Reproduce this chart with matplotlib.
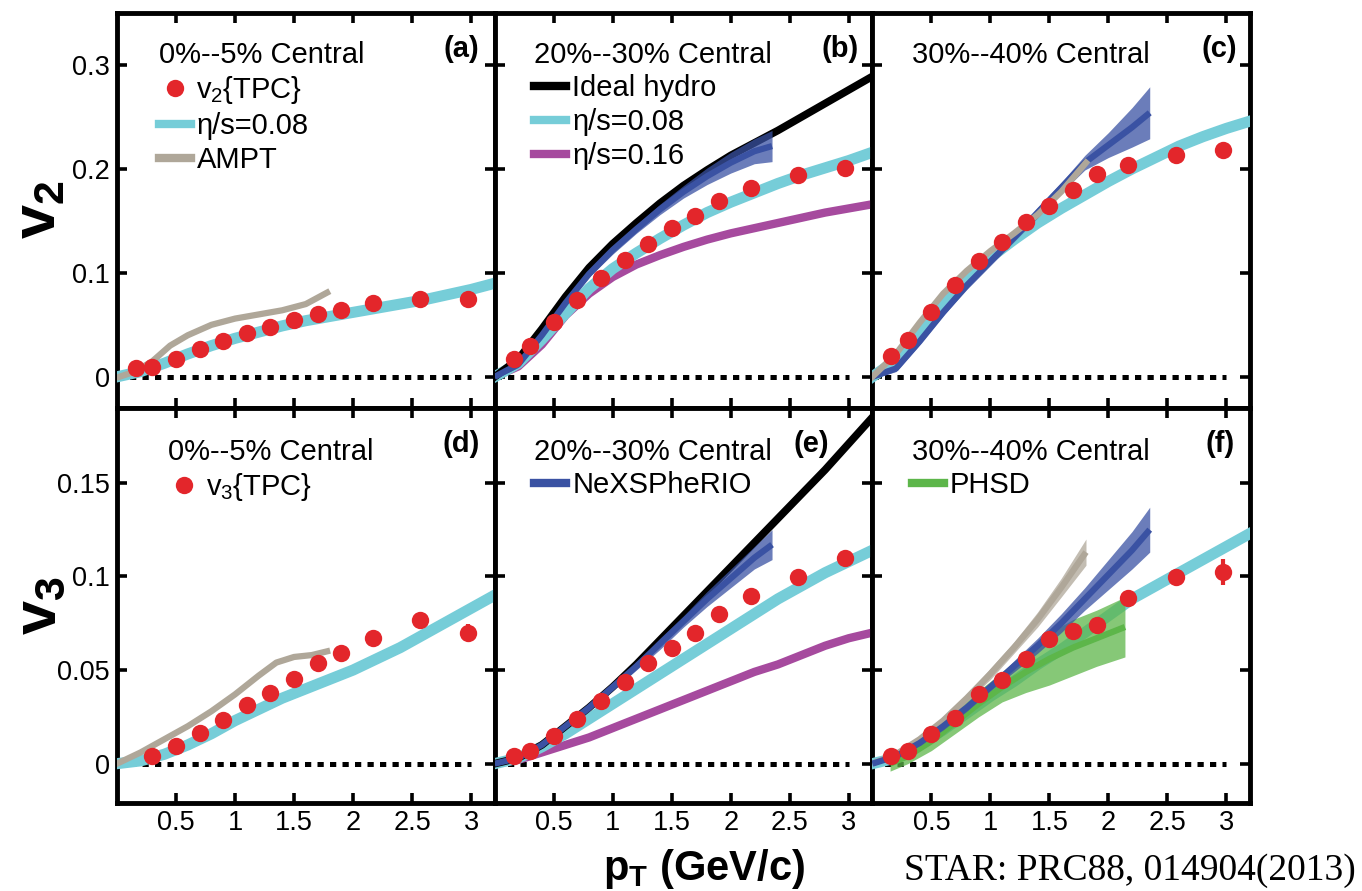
import matplotlib
matplotlib.use("Agg")
import matplotlib.pyplot as plt
from matplotlib.lines import Line2D
from matplotlib.ticker import FormatStrFormatter
import numpy as np

plt.rcParams['font.family'] = ['Liberation Sans', 'DejaVu Sans']
plt.rcParams['mathtext.fontset'] = 'custom'
plt.rcParams['mathtext.rm'] = 'Liberation Sans'
plt.rcParams['mathtext.it'] = 'Liberation Sans:italic'
plt.rcParams['mathtext.bf'] = 'Liberation Sans:bold'

# ---- STAR data points ----
pt_data = [0.16, 0.3, 0.5, 0.7, 0.9, 1.1, 1.3, 1.5, 1.7, 1.9, 2.17, 2.57, 2.97]
pt_data_d = [0.3, 0.5, 0.7, 0.9, 1.1, 1.3, 1.5, 1.7, 1.9, 2.17, 2.57, 2.97]

v2_0_5 = [0.008, 0.009, 0.017, 0.027, 0.034, 0.042, 0.048, 0.055, 0.060, 0.064, 0.071, 0.075, 0.075]
v2_20_30 = [0.017, 0.030, 0.053, 0.074, 0.095, 0.112, 0.128, 0.143, 0.155, 0.169, 0.182, 0.194, 0.201]
v2_30_40 = [0.020, 0.035, 0.062, 0.088, 0.111, 0.130, 0.149, 0.164, 0.180, 0.195, 0.204, 0.213, 0.218]

v3_0_5 = [0.0043, 0.0093, 0.0165, 0.0233, 0.0312, 0.038, 0.045, 0.054, 0.059, 0.067, 0.077, 0.070]
v3_0_5_err = [0, 0, 0, 0, 0, 0, 0, 0, 0, 0, 0.001, 0.0045]
v3_20_30 = [0.0039, 0.007, 0.0147, 0.024, 0.0335, 0.0434, 0.054, 0.062, 0.070, 0.080, 0.0894, 0.0998, 0.110]
v3_20_30_err = [0, 0, 0, 0, 0, 0, 0, 0, 0, 0, 0, 0.001, 0.002]
v3_30_40 = [0.0043, 0.0066, 0.016, 0.0245, 0.037, 0.0446, 0.056, 0.0667, 0.0708, 0.0742, 0.0885, 0.0998, 0.1025]
v3_30_40_err = [0, 0, 0, 0, 0, 0, 0, 0, 0, 0, 0.001, 0.004, 0.007]

# ---- model curves ----
pt_model = [0.0, 0.2, 0.4, 0.6, 0.8, 1.0, 1.2, 1.4, 1.6, 1.8, 2.0, 2.2, 2.4, 2.6, 2.8, 3.0, 3.2]

visc008_v2_0_5 = [0, 0.005, 0.013, 0.022, 0.030, 0.037, 0.043, 0.049, 0.054, 0.058, 0.062, 0.066, 0.070, 0.074, 0.079, 0.084, 0.090]
visc008_v2_20_30 = [0, 0.013, 0.036, 0.061, 0.085, 0.104, 0.119, 0.133, 0.146, 0.158, 0.168, 0.177, 0.186, 0.194, 0.201, 0.208, 0.216]
visc008_v2_30_40 = [0, 0.016, 0.042, 0.070, 0.095, 0.115, 0.132, 0.148, 0.162, 0.175, 0.188, 0.200, 0.211, 0.222, 0.231, 0.239, 0.246]
visc016_v2_20_30 = [0, 0.010, 0.031, 0.059, 0.080, 0.096, 0.108, 0.117, 0.125, 0.132, 0.138, 0.143, 0.148, 0.153, 0.158, 0.162, 0.166]
ideal_v2_20_30 = [0, 0.017, 0.046, 0.077, 0.105, 0.128, 0.148, 0.167, 0.184, 0.199, 0.213, 0.225, 0.237, 0.250, 0.263, 0.276, 0.289]

visc008_v3_0_5 = [0, 0.0015, 0.005, 0.010, 0.016, 0.023, 0.029, 0.035, 0.040, 0.045, 0.050, 0.056, 0.062, 0.069, 0.076, 0.083, 0.090]
visc008_v3_20_30 = [0, 0.003, 0.009, 0.016, 0.024, 0.032, 0.040, 0.048, 0.056, 0.064, 0.072, 0.080, 0.088, 0.095, 0.102, 0.108, 0.114]
visc008_v3_30_40 = [0, 0.003, 0.010, 0.018, 0.027, 0.036, 0.044, 0.053, 0.061, 0.070, 0.079, 0.088, 0.095, 0.102, 0.109, 0.116, 0.123]
visc016_v3_20_30 = [0, 0.002, 0.006, 0.010, 0.014, 0.019, 0.024, 0.029, 0.034, 0.039, 0.044, 0.049, 0.053, 0.058, 0.063, 0.067, 0.070]
ideal_v3_20_30 = [0, 0.003, 0.010, 0.020, 0.030, 0.041, 0.053, 0.066, 0.079, 0.092, 0.105, 0.118, 0.131, 0.144, 0.157, 0.171, 0.185]

# NeXSPheRIO
pt_nexus = [0.0, 0.2, 0.4, 0.6, 0.8, 1.0, 1.2, 1.4, 1.6, 1.8, 2.0, 2.2, 2.35]
nexus_v2_20_30 = [0, 0.012, 0.040, 0.071, 0.099, 0.122, 0.142, 0.161, 0.178, 0.193, 0.206, 0.217, 0.222]
nexus_v2_20_30_err = [0.002, 0.003, 0.003, 0.003, 0.003, 0.004, 0.004, 0.005, 0.006, 0.008, 0.010, 0.012, 0.015]
nexus_v2_30_40 = [0, 0.008, 0.034, 0.062, 0.088, 0.111, 0.134, 0.158, 0.182, 0.206, 0.223, 0.240, 0.254]
nexus_v2_30_40_err = [0.002, 0.003, 0.003, 0.003, 0.004, 0.004, 0.004, 0.005, 0.005, 0.007, 0.012, 0.019, 0.025]
nexus_v3_20_30 = [0, 0.003, 0.010, 0.020, 0.030, 0.041, 0.052, 0.064, 0.076, 0.088, 0.099, 0.110, 0.117]
nexus_v3_20_30_err = [0.001, 0.001, 0.001, 0.001, 0.002, 0.002, 0.002, 0.003, 0.003, 0.004, 0.005, 0.006, 0.008]
nexus_v3_30_40 = [0, 0.004, 0.011, 0.020, 0.030, 0.041, 0.052, 0.063, 0.075, 0.088, 0.101, 0.114, 0.125]
nexus_v3_30_40_err = [0.001, 0.001, 0.001, 0.002, 0.002, 0.002, 0.003, 0.004, 0.005, 0.006, 0.008, 0.010, 0.012]

# AMPT
pt_ampt_a = [0.02, 0.15, 0.3, 0.45, 0.6, 0.8, 1.0, 1.2, 1.4, 1.6, 1.78]
ampt_v2_0_5 = [0.0, 0.005, 0.015, 0.030, 0.040, 0.050, 0.056, 0.060, 0.064, 0.070, 0.081]
pt_ampt_c = [0.0, 0.2, 0.4, 0.6, 0.8, 1.0, 1.2, 1.4, 1.6, 1.81]
ampt_v2_30_40 = [0, 0.022, 0.052, 0.080, 0.102, 0.121, 0.138, 0.156, 0.178, 0.206]
pt_ampt_d = [0.0, 0.2, 0.4, 0.6, 0.8, 1.0, 1.2, 1.35, 1.5, 1.65, 1.78]
ampt_v3_0_5 = [0, 0.006, 0.013, 0.020, 0.028, 0.037, 0.047, 0.054, 0.057, 0.058, 0.060]
ampt_v3_30_40 = [0, 0.005, 0.013, 0.023, 0.035, 0.048, 0.062, 0.077, 0.094, 0.113]
ampt_v3_30_40_err = [0.001, 0.001, 0.002, 0.002, 0.002, 0.003, 0.003, 0.004, 0.005, 0.007]

# PHSD
pt_phsd = [0.15, 0.3, 0.5, 0.7, 0.9, 1.1, 1.3, 1.5, 1.7, 1.9, 2.14]
phsd_v3_30_40 = [0.0, 0.004, 0.012, 0.022, 0.032, 0.041, 0.049, 0.056, 0.062, 0.067, 0.073]
phsd_v3_30_40_err = [0.004, 0.004, 0.005, 0.006, 0.007, 0.008, 0.011, 0.014, 0.015, 0.015, 0.016]

v2_ticks = [0, 0.1, 0.2, 0.3]
v3_ticks = [0, 0.05, 0.1, 0.15]
pt_ticks = [0.5, 1, 1.5, 2, 2.5, 3]

RED = '#e3262b'
CYAN = '#76cdd8'
MAG = '#a64a9e'
BLUE = '#3a52a3'
GRAY = '#afa799'
GREEN = '#5db64a'

fig = plt.figure(figsize=(13.62, 8.91), dpi=100)
axes = fig.subplots(2, 3, sharex=True, sharey='row',
                    gridspec_kw=dict(left=0.0859, right=0.9178, top=0.9854,
                                     bottom=0.0988, wspace=0, hspace=0))


def zero_line(ax):
    ax.plot([0, 3.0], [0, 0], color='black', lw=3.6, ls=(0, (1.25, 1.25)),
            dash_capstyle='butt', zorder=2)


def band(ax, x, y, e, color, lw=4.5, z=3):
    y = np.asarray(y)
    e = np.asarray(e)
    ax.fill_between(x, y - e, y + e, color=color, alpha=0.75, lw=0, zorder=z)
    ax.plot(x, y, color=color, lw=lw, zorder=z + 0.1, solid_capstyle='butt')


def points(ax, x, y, err=None):
    ax.errorbar(x, y, yerr=err, fmt='o', color=RED, ms=12.5, mec='none',
                elinewidth=3, capsize=0, zorder=10)


(a, b, c), (d, e, f) = axes

# (a)
zero_line(a)
a.plot(pt_model, visc008_v2_0_5, color=CYAN, lw=8, zorder=3)
a.plot(pt_ampt_a, ampt_v2_0_5, color=GRAY, lw=4.5, zorder=4)
points(a, pt_data, v2_0_5)

# (b)
zero_line(b)
b.plot(pt_model, visc016_v2_20_30, color=MAG, lw=6, zorder=3)
b.plot(pt_model, visc008_v2_20_30, color=CYAN, lw=8, zorder=3)
b.plot(pt_model, ideal_v2_20_30, color='black', lw=5.5, zorder=4)
band(b, pt_nexus, nexus_v2_20_30, nexus_v2_20_30_err, BLUE, z=5)
points(b, pt_data, v2_20_30)

# (c)
zero_line(c)
c.plot(pt_model, visc008_v2_30_40, color=CYAN, lw=8, zorder=3)
band(c, pt_nexus, nexus_v2_30_40, nexus_v2_30_40_err, BLUE, z=4)
c.plot(pt_ampt_c, ampt_v2_30_40, color=GRAY, lw=4.5, zorder=5)
points(c, pt_data, v2_30_40)

# (d)
zero_line(d)
d.plot(pt_model, visc008_v3_0_5, color=CYAN, lw=8, zorder=3)
d.plot(pt_ampt_d, ampt_v3_0_5, color=GRAY, lw=4.5, zorder=4)
points(d, pt_data_d, v3_0_5, v3_0_5_err)

# (e)
zero_line(e)
e.plot(pt_model, visc016_v3_20_30, color=MAG, lw=6, zorder=3)
e.plot(pt_model, visc008_v3_20_30, color=CYAN, lw=8, zorder=3)
e.plot(pt_model, ideal_v3_20_30, color='black', lw=5.5, zorder=4)
band(e, pt_nexus, nexus_v3_20_30, nexus_v3_20_30_err, BLUE, z=5)
points(e, pt_data, v3_20_30, v3_20_30_err)

# (f)
zero_line(f)
f.plot(pt_model, visc008_v3_30_40, color=CYAN, lw=8, zorder=3)
band(f, pt_phsd, phsd_v3_30_40, phsd_v3_30_40_err, GREEN, lw=4.5, z=4)
band(f, pt_ampt_c, ampt_v3_30_40, ampt_v3_30_40_err, GRAY, z=5)
band(f, pt_nexus, nexus_v3_30_40, nexus_v3_30_40_err, BLUE, z=6)
points(f, pt_data, v3_30_40, v3_30_40_err)

# axes styling
for ax in axes.flat:
    ax.set_xlim(0, 3.2)
    ax.set_xticks(pt_ticks)
    ax.xaxis.set_major_formatter(FormatStrFormatter('%g'))
    ax.yaxis.set_major_formatter(FormatStrFormatter('%g'))
    ax.tick_params(direction='in', length=7.5, width=2.6, top=True, right=True,
                   labelsize=19.5, pad=5)
    for sp in ax.spines.values():
        sp.set_linewidth(3.5)
for ax in axes[0]:
    ax.set_ylim(-0.03, 0.35)
    ax.set_yticks(v2_ticks)
for ax in axes[1]:
    ax.set_ylim(-0.021, 0.19)
    ax.set_yticks(v3_ticks)

# legends
leg_kw = dict(loc='upper left', frameon=False, fontsize=21, title_fontsize=21,
              handlelength=1.1, handletextpad=0.2, labelspacing=0.2,
              borderpad=0, borderaxespad=0, alignment='left')


def lh(color, lw=6):
    return Line2D([], [], color=color, lw=lw)


pt_h = Line2D([], [], marker='o', ls='none', color=RED, ms=12.5, mec='none')

a.legend([pt_h, lh(CYAN), lh(GRAY)], ['v$_2${TPC}', 'η/s=0.08', 'AMPT'],
         title='0%--5% Central', bbox_to_anchor=(0.11, 0.93), **leg_kw)
b.legend([lh('black'), lh(CYAN), lh(MAG)], ['Ideal hydro', 'η/s=0.08', 'η/s=0.16'],
         title='20%--30% Central', bbox_to_anchor=(0.105, 0.93), **leg_kw)
c.legend([], [], title='30%--40% Central', bbox_to_anchor=(0.105, 0.93), **leg_kw)
d.legend([pt_h], ['v$_3${TPC}'],
         title='0%--5% Central', bbox_to_anchor=(0.135, 0.925), **leg_kw)
e.legend([lh(BLUE)], ['NeXSPheRIO'],
         title='20%--30% Central', bbox_to_anchor=(0.105, 0.925), **leg_kw)
f.legend([lh(GREEN)], ['PHSD'],
         title='30%--40% Central', bbox_to_anchor=(0.105, 0.925), **leg_kw)

# panel tags
for ax, tag, xpos in [(a, '(a)', 0.96), (b, '(b)', 0.965), (c, '(c)', 0.965),
                      (d, '(d)', 0.96), (e, '(e)', 0.885), (f, '(f)', 0.96)]:
    ax.text(xpos, 0.91, tag, transform=ax.transAxes, ha='right', va='center',
            fontsize=21, fontweight='bold', zorder=12)

fig.text(40 / 1362, 1 - 210 / 891, r'$\mathbf{v_2}$', rotation=90,
         fontsize=44, ha='center', va='center')
fig.text(40 / 1362, 1 - 606 / 891, r'$\mathbf{v_3}$', rotation=90,
         fontsize=44, ha='center', va='center')
fig.text(704 / 1362, 1 - 880 / 891, r'$\mathbf{p_T}$ (GeV/c)', fontsize=30,
         fontweight='bold', ha='center', va='baseline')
fig.text(1356 / 1362, 1 - 880 / 891, 'STAR: PRC88, 014904(2013)',
         family='Liberation Serif', fontsize=27, ha='right', va='baseline')

fig.savefig('out.png', dpi=100)
